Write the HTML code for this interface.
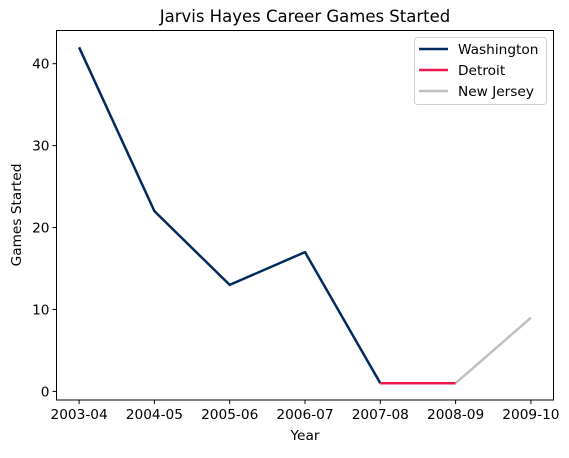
<!DOCTYPE html>
<html><head><meta charset="utf-8"><style>
body{margin:0;background:#fff}
svg text{font-family:"DejaVu Sans","Liberation Sans",sans-serif;fill:#000}
</style></head><body>
<svg id="c" width="569" height="453" xmlns="http://www.w3.org/2000/svg">
<text x="305" y="22" font-size="16.5" text-anchor="middle">Jarvis Hayes Career Games Started</text>
<g id="plot"></g>
<rect x="56.5" y="30.5" width="497" height="369.5" fill="none" stroke="#000" stroke-width="1"/>
<text x="305" y="440" font-size="13.7" text-anchor="middle">Year</text>
<text transform="translate(21,215) rotate(-90)" font-size="13.7" text-anchor="middle">Games Started</text>
<g>
<rect x="414.5" y="37.5" width="132" height="67" rx="3" fill="#fff" fill-opacity="0.8" stroke="#d0d0d0"/>
<line x1="419" y1="49" x2="448" y2="49" stroke="#002B5C" stroke-width="2.5"/>
<text x="458" y="54" font-size="13.7">Washington</text>
<line x1="419" y1="70" x2="448" y2="70" stroke="#ED174C" stroke-width="2.5"/>
<text x="458" y="75" font-size="13.7">Detroit</text>
<line x1="419" y1="91" x2="448" y2="91" stroke="#C0C0C0" stroke-width="2.5"/>
<text x="458" y="96" font-size="13.7">New Jersey</text>
</g>
</svg>
<script>
const categories=["2003-04","2004-05","2005-06","2006-07","2007-08","2008-09","2009-10"];
const yTicks=[0,10,20,30,40];
const washIdx=[0,1,2,3,4];
const washVals=[42,22,13,17,1];
const detIdx=[4,5];
const detVals=[1,1];
const njIdx=[5,6];
const njVals=[1,9];
const NS="http://www.w3.org/2000/svg";
const L=56.5,R=553.5,T=30.5,B=400;
const xmin=-0.3,xmax=categories.length-1+0.3;
const ymin=-1.05,ymax=44.05;
const X=i=>L+(i-xmin)/(xmax-xmin)*(R-L);
const Y=v=>B-(v-ymin)/(ymax-ymin)*(B-T);
const g=document.getElementById('plot');
function mk(t,a){const e=document.createElementNS(NS,t);for(const k in a)e.setAttribute(k,a[k]);g.appendChild(e);return e;}
categories.forEach((c,i)=>{
 const tk=mk('line',{x1:X(i),x2:X(i),y1:B,y2:B+4,stroke:'#000'});
 
 
 const t=mk('text',{x:X(i),y:B+19,'font-size':13.7,'text-anchor':'middle'});
 t.textContent=c;
 
 
});
yTicks.forEach(v=>{
 const tk=mk('line',{x1:L-4,x2:L,y1:Y(v),y2:Y(v),stroke:'#000'});
 
 
 const t=mk('text',{x:L-7,y:Y(v)+5,'font-size':13.7,'text-anchor':'end'});
 t.textContent=v;
 
 
});
function line(idx,vals,color,name){
 const p=mk('polyline',{points:idx.map((i,k)=>X(i)+','+Y(vals[k])).join(' '),fill:'none',stroke:color,'stroke-width':2.5,'stroke-linejoin':'round'});
 
 
}
line(washIdx,washVals,'#002B5C','line-washington');
line(njIdx,njVals,'#C0C0C0','line-new-jersey');
line(detIdx,detVals,'#ED174C','line-detroit');
</script>
</body></html>
